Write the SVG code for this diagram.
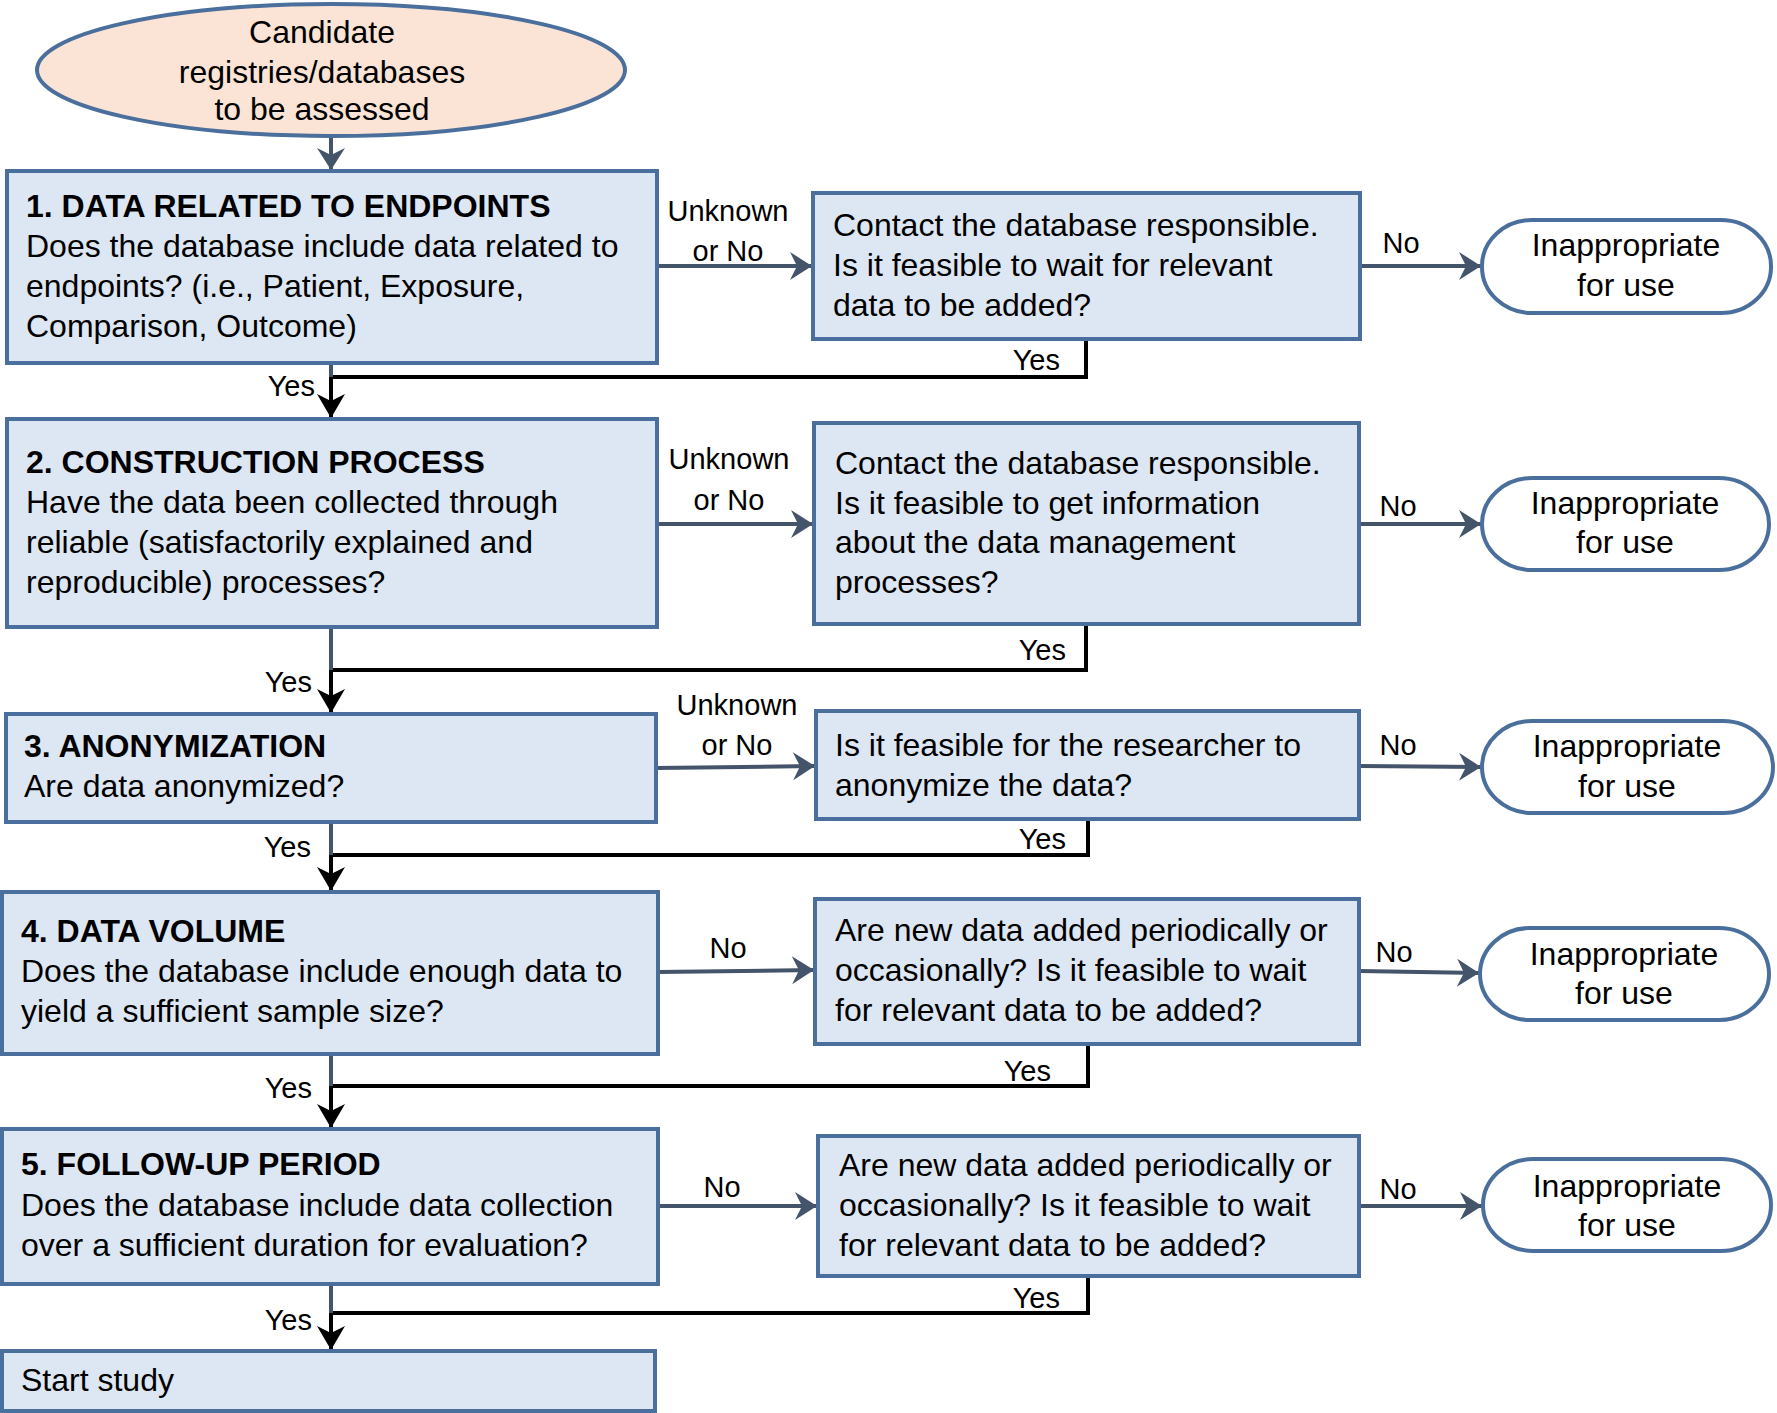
<svg xmlns="http://www.w3.org/2000/svg" width="1777" height="1413" viewBox="0 0 1777 1413">
<style>
text{font-family:"Liberation Sans",Arial,sans-serif;fill:#000}
.t{font-size:32px}
.b{font-size:32px;font-weight:bold}
.l{font-size:29px}
.m{text-anchor:middle}
.e{text-anchor:end}
.box{fill:#dce7f3;stroke:#4a6f9c;stroke-width:4}
.term{fill:#fff;stroke:#4a6f9c;stroke-width:4}
.g{fill:none;stroke:#44546a;stroke-width:4}
.k{fill:none;stroke:#000;stroke-width:4}
</style>
<defs>
<marker id="ag" markerUnits="userSpaceOnUse" markerWidth="28" markerHeight="32" viewBox="-2 -16 28 32" refX="22" refY="0" orient="auto">
<path d="M0,-14 L22,0 L0,14 L7,0 z" fill="#44546a"/>
</marker>
<marker id="ak" markerUnits="userSpaceOnUse" markerWidth="28" markerHeight="32" viewBox="-2 -16 28 32" refX="24" refY="0" orient="auto">
<path d="M0,-14 L24,0 L0,14 L7,0 z" fill="#000"/>
</marker>
</defs>

<g id="connectors">
<line class="g" x1="331" y1="136" x2="331" y2="170" marker-end="url(#ag)"/>
<!-- row 1 -->
<line class="g" x1="657" y1="266" x2="812" y2="266" marker-end="url(#ag)"/>
<line class="g" x1="1360" y1="266" x2="1481" y2="266" marker-end="url(#ag)"/>
<polyline class="k" points="1086,339 1086,377 331,377"/>
<line class="g" x1="331" y1="363" x2="331" y2="377"/>
<line class="k" x1="331" y1="377" x2="331" y2="418" marker-end="url(#ak)"/>
<!-- row 2 -->
<line class="g" x1="657" y1="524" x2="813" y2="524" marker-end="url(#ag)"/>
<line class="g" x1="1359" y1="524" x2="1481" y2="524" marker-end="url(#ag)"/>
<polyline class="k" points="1086,624 1086,670 331,670"/>
<line class="g" x1="331" y1="627" x2="331" y2="670"/>
<line class="k" x1="331" y1="670" x2="331" y2="713" marker-end="url(#ak)"/>
<!-- row 3 -->
<line class="g" x1="656" y1="768" x2="815" y2="766" marker-end="url(#ag)"/>
<line class="g" x1="1359" y1="766" x2="1481" y2="767" marker-end="url(#ag)"/>
<polyline class="k" points="1088,819 1088,855 331,855"/>
<line class="g" x1="331" y1="822" x2="331" y2="855"/>
<line class="k" x1="331" y1="855" x2="331" y2="891" marker-end="url(#ak)"/>
<!-- row 4 -->
<line class="g" x1="658" y1="972" x2="814" y2="970" marker-end="url(#ag)"/>
<line class="g" x1="1359" y1="971" x2="1479" y2="973" marker-end="url(#ag)"/>
<polyline class="k" points="1088,1044 1088,1086 331,1086"/>
<line class="g" x1="331" y1="1054" x2="331" y2="1086"/>
<line class="k" x1="331" y1="1086" x2="331" y2="1128" marker-end="url(#ak)"/>
<!-- row 5 -->
<line class="g" x1="658" y1="1206" x2="817" y2="1206" marker-end="url(#ag)"/>
<line class="g" x1="1359" y1="1206" x2="1482" y2="1206" marker-end="url(#ag)"/>
<polyline class="k" points="1088,1276 1088,1313 331,1313"/>
<line class="g" x1="331" y1="1284" x2="331" y2="1313"/>
<line class="k" x1="331" y1="1313" x2="331" y2="1350" marker-end="url(#ak)"/>
<!-- labels -->
<text class="l m" x="728" y="221">Unknown</text>
<text class="l m" x="728" y="261">or No</text>
<text class="l m" x="1401" y="253">No</text>
<text class="l e" x="1060" y="370">Yes</text>
<text class="l e" x="315" y="396">Yes</text>
<text class="l m" x="729" y="469">Unknown</text>
<text class="l m" x="729" y="510">or No</text>
<text class="l m" x="1398" y="516">No</text>
<text class="l e" x="1066" y="660">Yes</text>
<text class="l e" x="312" y="692">Yes</text>
<text class="l m" x="737" y="715">Unknown</text>
<text class="l m" x="737" y="755">or No</text>
<text class="l m" x="1398" y="755">No</text>
<text class="l e" x="1066" y="849">Yes</text>
<text class="l e" x="311" y="857">Yes</text>
<text class="l m" x="728" y="958">No</text>
<text class="l m" x="1394" y="962">No</text>
<text class="l e" x="1051" y="1081">Yes</text>
<text class="l e" x="312" y="1098">Yes</text>
<text class="l m" x="722" y="1197">No</text>
<text class="l m" x="1398" y="1199">No</text>
<text class="l e" x="1060" y="1308">Yes</text>
<text class="l e" x="312" y="1330">Yes</text>
</g>

<g id="start">
<ellipse cx="331" cy="70" rx="294" ry="66" fill="#fbe4d5" stroke="#4a6f9c" stroke-width="4"/>
<text class="t m" x="322" y="43">Candidate</text>
<text class="t m" x="322" y="83">registries/databases</text>
<text class="t m" x="322" y="120">to be assessed</text>
</g>

<g id="q1">
<rect class="box" x="7" y="171" width="650" height="192"/>
<text class="b" x="26" y="217">1. DATA RELATED TO ENDPOINTS</text>
<text class="t" x="26" y="257">Does the database include data related to</text>
<text class="t" x="26" y="297">endpoints? (i.e., Patient, Exposure,</text>
<text class="t" x="26" y="337">Comparison, Outcome)</text>
</g>
<g id="c1">
<rect class="box" x="813" y="193" width="547" height="146"/>
<text class="t" x="833" y="236">Contact the database responsible.</text>
<text class="t" x="833" y="276">Is it feasible to wait for relevant</text>
<text class="t" x="833" y="316">data to be added?</text>
</g>
<g id="x1">
<rect class="term" x="1482" y="220" width="289" height="93" rx="50" ry="46"/>
<text class="t m" x="1626" y="256">Inappropriate</text>
<text class="t m" x="1626" y="296">for use</text>
</g>

<g id="q2">
<rect class="box" x="7" y="419" width="650" height="208"/>
<text class="b" x="26" y="473">2. CONSTRUCTION PROCESS</text>
<text class="t" x="26" y="513">Have the data been collected through</text>
<text class="t" x="26" y="553">reliable (satisfactorily explained and</text>
<text class="t" x="26" y="593">reproducible) processes?</text>
</g>
<g id="c2">
<rect class="box" x="814" y="423" width="545" height="201"/>
<text class="t" x="835" y="474">Contact the database responsible.</text>
<text class="t" x="835" y="514">Is it feasible to get information</text>
<text class="t" x="835" y="553">about the data management</text>
<text class="t" x="835" y="593">processes?</text>
</g>
<g id="x2">
<rect class="term" x="1482" y="478" width="287" height="92" rx="50" ry="46"/>
<text class="t m" x="1625" y="514">Inappropriate</text>
<text class="t m" x="1625" y="553">for use</text>
</g>

<g id="q3">
<rect class="box" x="6" y="714" width="650" height="108"/>
<text class="b" x="24" y="757">3. ANONYMIZATION</text>
<text class="t" x="24" y="797">Are data anonymized?</text>
</g>
<g id="c3">
<rect class="box" x="816" y="711" width="543" height="108"/>
<text class="t" x="835" y="756">Is it feasible for the researcher to</text>
<text class="t" x="835" y="796">anonymize the data?</text>
</g>
<g id="x3">
<rect class="term" x="1482" y="721" width="291" height="92" rx="50" ry="46"/>
<text class="t m" x="1627" y="757">Inappropriate</text>
<text class="t m" x="1627" y="797">for use</text>
</g>

<g id="q4">
<rect class="box" x="2" y="892" width="656" height="162"/>
<text class="b" x="21" y="942">4. DATA VOLUME</text>
<text class="t" x="21" y="982">Does the database include enough data to</text>
<text class="t" x="21" y="1022">yield a sufficient sample size?</text>
</g>
<g id="c4">
<rect class="box" x="815" y="899" width="544" height="145"/>
<text class="t" x="835" y="941">Are new data added periodically or</text>
<text class="t" x="835" y="981">occasionally? Is it feasible to wait</text>
<text class="t" x="835" y="1021">for relevant data to be added?</text>
</g>
<g id="x4">
<rect class="term" x="1480" y="928" width="289" height="92" rx="50" ry="46"/>
<text class="t m" x="1624" y="965">Inappropriate</text>
<text class="t m" x="1624" y="1004">for use</text>
</g>

<g id="q5">
<rect class="box" x="2" y="1129" width="656" height="155"/>
<text class="b" x="21" y="1175">5. FOLLOW-UP PERIOD</text>
<text class="t" x="21" y="1216">Does the database include data collection</text>
<text class="t" x="21" y="1256">over a sufficient duration for evaluation?</text>
</g>
<g id="c5">
<rect class="box" x="818" y="1136" width="541" height="140"/>
<text class="t" x="839" y="1176">Are new data added periodically or</text>
<text class="t" x="839" y="1216">occasionally? Is it feasible to wait</text>
<text class="t" x="839" y="1256">for relevant data to be added?</text>
</g>
<g id="x5">
<rect class="term" x="1483" y="1159" width="288" height="92" rx="50" ry="46"/>
<text class="t m" x="1627" y="1197">Inappropriate</text>
<text class="t m" x="1627" y="1236">for use</text>
</g>

<g id="end">
<rect class="box" x="2" y="1351" width="653" height="60"/>
<text class="t" x="21" y="1391">Start study</text>
</g>
</svg>
